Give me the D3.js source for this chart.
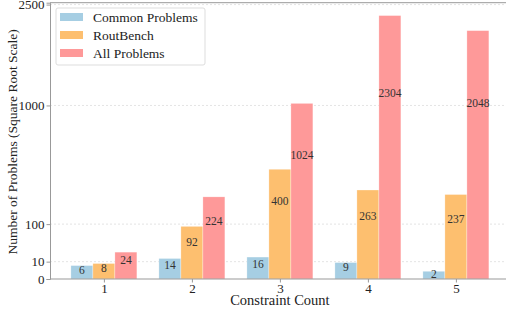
<!DOCTYPE html>
<html>
<head>
<meta charset="utf-8">
<script src="https://cdn.jsdelivr.net/npm/d3@7"></script>
<style>
  body { margin: 0; background: #fff; }
  svg text { font-family: "Liberation Serif", "DejaVu Serif", serif; fill: #222; }
</style>
</head>
<body>
<svg id="chart" width="506" height="315"></svg>
<script>
var categories = [1, 2, 3, 4, 5];
var seriesNames = ["Common Problems", "RoutBench", "All Problems"];
var commonProblems = [6, 14, 16, 9, 2];
var routBench = [8, 92, 400, 263, 237];
var allProblems = [24, 224, 1024, 2304, 2048];
var yTicks = [0, 10, 100, 1000, 2500];
var colours = ["#a6cee3", "#fdbf6f", "#fe9999"];

var series = [commonProblems, routBench, allProblems];
var svg = d3.select("#chart");

var x = d3.scaleLinear().domain([0.3875, 5.6125]).range([50, 509.8]);
var y = d3.scaleSqrt().domain([0, d3.max(allProblems) * 1.1]).range([279, 2.7]);
var barW = 0.25;

// grid
svg.append("g").selectAll("line")
  .data(yTicks.filter(function(d){ return d > 0; }))
  .enter().append("line")
  .attr("x1", x.range()[0]).attr("x2", 506)
  .attr("y1", function(d){ return y(d); })
  .attr("y2", function(d){ return y(d); })
  .style("stroke", "#ddd")
  .style("stroke-width", 0.8)
  .style("stroke-dasharray", "2,2");

// bars
series.forEach(function(vals, si){
  var off = (si - 1) * barW;
  var g = svg.append("g");
  g.selectAll("rect").data(vals).enter().append("rect")
    .attr("x", function(d, i){ return x(categories[i] + off - barW / 2); })
    .attr("width", x(barW) - x(0))
    .attr("y", function(d){ return y(d); })
    .attr("height", function(d){ return y(0) - y(d); })
    .style("fill", colours[si])
    .style("stroke", "#fff")
    .style("stroke-width", 0.5)
    .style("stroke-opacity", 0.6);
  g.selectAll("text").data(vals).enter().append("text")
    .attr("x", function(d, i){ return x(categories[i] + off); })
    .attr("y", function(d){ return y(d / 2); })
    .attr("dy", "0.35em")
    .attr("text-anchor", "middle")
    .style("font-size", "11.5px")
    .style("fill", "#333")
    .text(function(d){ return d; });
});

// axes
var xAxis = svg.append("g").attr("transform", "translate(0," + y(0) + ")")
  .call(d3.axisBottom(x).tickValues(categories).tickFormat(d3.format("d")).tickSize(3.5).tickPadding(1.5));
var yAxis = svg.append("g").attr("transform", "translate(" + x.range()[0] + ",0)")
  .call(d3.axisLeft(y).tickValues(yTicks).tickFormat(d3.format("d")).tickSize(3.5).tickPadding(2));
[xAxis, yAxis].forEach(function(a){
  a.select(".domain").style("stroke", "#999");
  a.selectAll(".tick line").style("stroke", "#999");
  a.selectAll(".tick text").style("font-size", "13px").style("fill", "#222")
    .style("font-family", '"Liberation Serif", serif');
});
xAxis.select(".domain").attr("d", "M" + x.range()[0] + ",0H" + 506);
svg.append("line")
  .attr("x1", x.range()[0]).attr("x2", 506)
  .attr("y1", y.range()[1]).attr("y2", y.range()[1])
  .style("stroke", "#999");

// axis labels
svg.append("text")
  .attr("x", x(3)).attr("y", 305)
  .attr("text-anchor", "middle")
  .style("font-size", "14.5px")
  .text("Constraint Count");
svg.append("text")
  .attr("transform", "translate(17," + ((y.range()[0] + y.range()[1]) / 2 + 1) + ") rotate(-90)")
  .attr("text-anchor", "middle")
  .style("font-size", "13.5px")
  .text("Number of Problems (Square Root Scale)");

// legend
var legend = svg.append("g").attr("transform", "translate(56,8)");
legend.append("rect")
  .attr("width", 149).attr("height", 57).attr("rx", 2)
  .style("fill", "#fff").style("fill-opacity", 0.8)
  .style("stroke", "#ddd");
seriesNames.forEach(function(name, i){
  var row = legend.append("g").attr("transform", "translate(0," + (9 + i * 18) + ")");
  row.append("rect")
    .attr("x", 4).attr("y", -4).attr("width", 23).attr("height", 8)
    .style("fill", colours[i]);
  row.append("text")
    .attr("x", 37).attr("dy", "0.35em")
    .style("font-size", "13.5px")
    .text(name);
});
</script>
</body>
</html>
